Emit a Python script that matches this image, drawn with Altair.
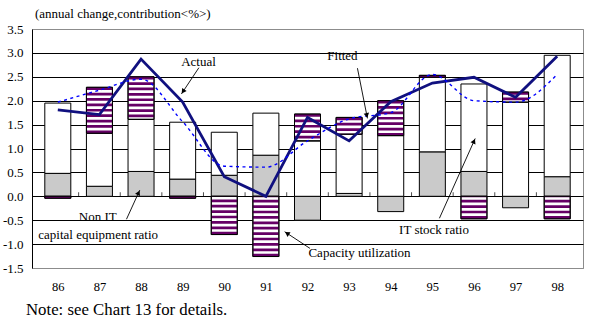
import math
import pandas as pd
import altair as alt

# ---------------- data ----------------
years = [86, 87, 88, 89, 90, 91, 92, 93, 94, 95, 96, 97, 98]
non_it = [0.48, 0.21, 0.52, 0.36, 0.44, 0.86, -0.50, 0.06, -0.32, 0.93, 0.52, -0.24, 0.41]
it_stock = [1.47, 1.11, 1.09, 1.19, 0.90, 0.88, 1.16, 1.24, 1.27, 1.56, 1.83, 1.97, 2.54]
cap_util = [-0.04, 0.96, 0.89, -0.04, -0.80, -1.26, 0.56, 0.35, 0.73, 0.04, -0.47, 0.21, -0.47]
actual = [1.81, 1.71, 2.87, 1.97, 0.41, 0.00, 1.65, 1.16, 1.98, 2.37, 2.49, 2.07, 2.93]
fitted = [1.97, 2.22, 2.45, 1.56, 0.63, 0.61, 1.16, 1.62, 1.75, 2.55, 2.00, 1.97, 2.55]

y_ticks = [-1.5, -1.0, -0.5, 0.0, 0.5, 1.0, 1.5, 2.0, 2.5, 3.0, 3.5]

ann_text = ["Actual", "Fitted", "Non IT", "capital equipment ratio",
            "Capacity utilization", "IT stock ratio"]
ann_x = [89.38, 92.84, 86.96, 86.97, 93.25, 95.04]
ann_y = [2.82, 2.94, -0.43, -0.82, -1.19, -0.70]

arrow_x1 = [89.39, 93.20, 87.65, 92.06, 95.17]
arrow_y1 = [2.69, 2.68, -0.48, -1.09, -0.46]
arrow_x2 = [88.97, 93.44, 87.97, 91.45, 96.03]
arrow_y2 = [2.14, 1.63, 0.13, -0.74, 1.21]

title_text = "(annual change,contribution<%>)"
note_text = "Note: see Chart 13 for details."

# ---------------- layout ----------------
W, H = 551, 239
X_DOM = [years[0] - 0.5, years[-1] + 0.5]
Y_DOM = [-1.5, 3.5]
PX_X = W / (X_DOM[1] - X_DOM[0])
PX_Y = H / (Y_DOM[1] - Y_DOM[0])
FONT = "Liberation Serif"
BAR_W = 26

# stacked segments (positive and negative stacked separately)
rows = []
for i, yr in enumerate(years):
    pos, neg = 0.0, 0.0
    for comp, v in (("nonit", non_it[i]), ("it", it_stock[i]), ("cap", cap_util[i])):
        if v >= 0:
            s, e = pos, pos + v
            pos = e
        else:
            s, e = neg, neg + v
            neg = e
        rows.append({"year": yr, "comp": comp, "start": s, "end": e})
stack_df = pd.DataFrame(rows)

line_df = pd.DataFrame({"year": years, "actual": actual, "fitted": fitted})
tick_df = pd.DataFrame({"b": [y + 0.5 for y in years[:-1]]})
ann_df = pd.DataFrame({"x": ann_x, "y": ann_y, "label": ann_text})

arr_rows = []
for x1, y1, x2, y2 in zip(arrow_x1, arrow_y1, arrow_x2, arrow_y2):
    dxp = (x2 - x1) * PX_X
    dyp = -(y2 - y1) * PX_Y
    L = math.hypot(dxp, dyp)
    ang = math.degrees(math.atan2(dxp, -dyp)) % 360
    back = 3.0 / L
    arr_rows.append({"x1": x1, "y1": y1, "x2": x2, "y2": y2,
                     "hx": x2 - (x2 - x1) * back, "hy": y2 - (y2 - y1) * back,
                     "angle": ang})
arr_df = pd.DataFrame(arr_rows)

label_expr = ("datum.value < 0 ? '-' + format(-datum.value, '.1f') : "
              "format(datum.value, '.1f')")

x_axis = alt.Axis(values=years, format="d", ticks=False, labelPadding=12,
                  labelFont=FONT, labelFontSize=12.5, labelColor="black",
                  domainColor="#8c8c8c", grid=False, title=None)
y_axis = alt.Axis(values=y_ticks, labelExpr=label_expr, ticks=False, labelPadding=9,
                  labelFont=FONT, labelFontSize=13, labelColor="black",
                  domainColor="black", grid=True,
                  gridColor={"condition": {"test": "datum.value == 3.5 || datum.value == -1.5",
                                           "value": "#8c8c8c"},
                             "value": "#000000"},
                  gridOpacity=1, gridWidth=1, title=None)
x_scale = alt.Scale(domain=X_DOM, nice=False, zero=False)
y_scale = alt.Scale(domain=Y_DOM, nice=False, zero=False)


def X(f):
    return alt.X(f, type="quantitative", scale=x_scale, axis=x_axis)


def Y(f):
    return alt.Y(f, type="quantitative", scale=y_scale, axis=y_axis)


base = alt.Chart(stack_df)

stipple = base.transform_filter("datum.comp == 'nonit'").mark_bar(
    size=BAR_W, fill="#cacaca", stroke="black", strokeWidth=1
).encode(x=X("year"), y=Y("start"), y2="end")

white = base.transform_filter("datum.comp == 'it'").mark_bar(
    size=BAR_W, fill="white", stroke="black", strokeWidth=1
).encode(x=X("year"), y=Y("start"), y2="end")

cap_bg = base.transform_filter("datum.comp == 'cap'").mark_bar(
    size=BAR_W, fill="white", stroke="black", strokeWidth=1
).encode(x=X("year"), y=Y("start"), y2="end")

cap_stripes = base.transform_filter("datum.comp == 'cap'").mark_rule(
    strokeWidth=BAR_W, strokeDash=[2.7, 2.7], color="#660066", strokeCap="butt"
).encode(x=X("year"), y=Y("end"), y2="start")

cap_outline = base.transform_filter("datum.comp == 'cap'").mark_bar(
    size=BAR_W, fillOpacity=0, stroke="black", strokeWidth=1
).encode(x=X("year"), y=Y("start"), y2="end")

zero_ticks = alt.Chart(tick_df).mark_tick(
    orient="vertical", size=4, thickness=1, yOffset=-2, color="black"
).encode(x=X("b"), y=alt.Y(datum=0, type="quantitative", scale=y_scale, axis=y_axis))

lines = alt.Chart(line_df)
actual_line = lines.mark_line(color="#10107f", strokeWidth=2.8).encode(
    x=X("year"), y=Y("actual"))
fitted_line = lines.mark_line(color="#0000ff", strokeWidth=1.4, strokeDash=[3, 3.5],
                              interpolate="monotone").encode(
    x=X("year"), y=Y("fitted"))

arrows = alt.Chart(arr_df)
arrow_lines = arrows.mark_rule(color="black", strokeWidth=0.9).encode(
    x=X("x1"), y=Y("y1"), x2="x2", y2="y2")
arrow_heads = arrows.mark_point(shape="triangle-up", filled=True, color="black",
                                size=30, opacity=1).encode(
    x=X("hx"), y=Y("hy"), angle=alt.Angle("angle:Q", scale=None))

ann = alt.Chart(ann_df).mark_text(font=FONT, fontSize=13, color="black",
                                  align="center", baseline="middle").encode(
    x=X("x"), y=Y("y"), text="label:N")

title_mark = alt.Chart(pd.DataFrame({"t": [title_text]})).mark_text(
    font=FONT, fontSize=13, color="black", align="left", baseline="middle"
).encode(x=alt.value(3), y=alt.value(-15), text="t:N")

note_mark = alt.Chart(pd.DataFrame({"t": [note_text]})).mark_text(
    font=FONT, fontSize=16.8, color="black", align="left", baseline="middle"
).encode(x=alt.value(-6), y=alt.value(281), text="t:N")

chart = alt.layer(
    stipple, white, cap_bg, cap_stripes, cap_outline, zero_ticks,
    actual_line, fitted_line, arrow_lines, arrow_heads, ann, title_mark, note_mark
).properties(
    width=W, height=H,
    autosize=alt.AutoSizeParams(type="none"),
    padding={"left": 32, "top": 29, "right": 7, "bottom": 58},
    background="white",
).configure_view(stroke="#8c8c8c", strokeWidth=1)

chart.save("out.html", embed_options={"renderer": "svg", "actions": False})
